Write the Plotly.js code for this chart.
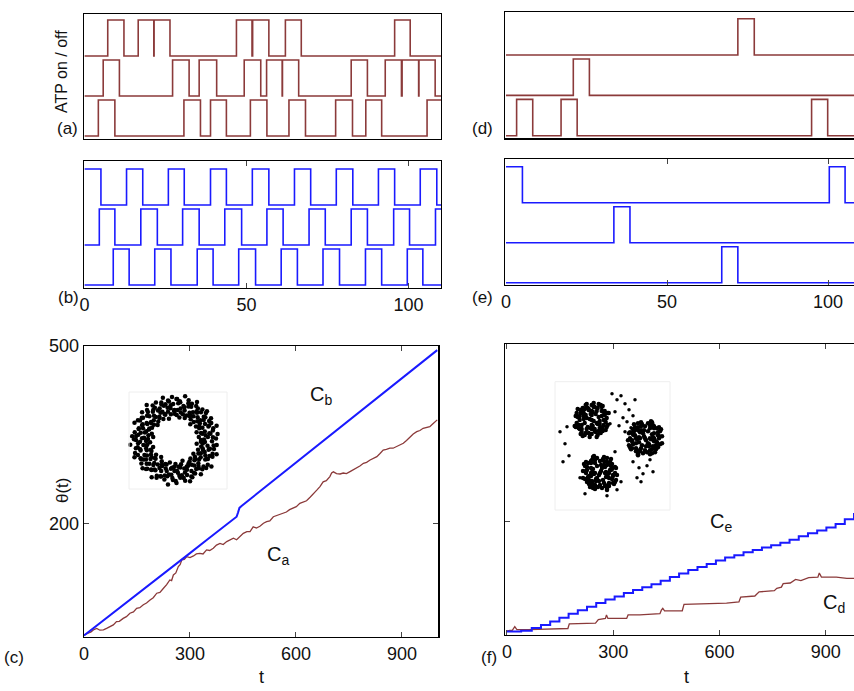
<!DOCTYPE html>
<html><head><meta charset="utf-8">
<script src="https://cdn.plot.ly/plotly-3.0.1.min.js"></script>
<style>html,body{margin:0;padding:0;background:#fff;overflow:hidden}</style>
</head><body><div id="chart" style="width:854px;height:691px"></div>
<script>
// ---------- DATA ----------
// Panel (a): toggle times and ATP states (bottom, middle, top)
const a1T = [0,4.3,9.4,30.7,35.8,38.9,43.8,51.2,56.3,63.1,68.2,77.5,82.7,86.8,91.7,105.7,110];
const a1S = [0,1,0,1,0,1,0,1,0,1,0,1,0,1,0,1,1];
const a2T = [0,5.8,10.8,27.2,32.3,35.4,40.8,49.3,54.4,56.2,61.0,61.1,66.1,82.3,87.3,92.8,97.8,98.0,103.1,103.2,108.2,110];
const a2S = [0,1,0,1,0,1,0,1,0,1,0,1,0,1,0,1,0,1,0,1,0,0];
const a3T = [0,7.2,12.2,16.6,21.4,21.5,26.4,46.9,51.7,51.9,56.9,62.0,66.9,95.7,100.5,110];
const a3S = [0,1,0,1,0,1,0,1,0,1,0,1,0,1,0,0];
// Panel (b)
const b1T = [0,8.9,13.8,21.7,26.7,34.8,39.7,47.6,52.8,60.7,65.7,73.6,78.7,86.7,91.7,99.6,104.4,110];
const b1S = [0,1,0,1,0,1,0,1,0,1,0,1,0,1,0,1,0,0];
const b2T = [0,4.6,9.4,17.4,22.5,30.3,35.4,43.3,48.5,56.3,61.3,69.3,74.3,82.3,87.3,95.4,100.3,108.3,110];
const b2S = [0,1,0,1,0,1,0,1,0,1,0,1,0,1,0,1,0,1,1];
const b3T = [0,5.1,13.0,18.0,25.9,30.8,38.9,43.8,51.8,56.9,64.8,69.8,77.7,82.8,90.7,95.7,103.6,108.7,110];
const b3S = [1,0,1,0,1,0,1,0,1,0,1,0,1,0,1,0,1,0,0];
// Panel (d)
const d1T = [0,3.3,8.3,17.1,22.1,94.9,99.9,110];
const d1S = [0,1,0,1,0,1,0,0];
const d2T = [0,20.9,25.9,110];
const d2S = [0,1,0,0];
const d3T = [0,72.0,77.1,110];
const d3S = [0,1,0,0];
// Panel (e)
const e1T = [0,67.0,72.0,110];
const e1S = [0,1,0,0];
const e2T = [0,33.5,38.5,110];
const e2S = [0,1,0,0];
const e3T = [0,5.1,100.4,105.3,110];
const e3S = [1,0,1,0,0];

// Panel (c): theta(t)
const caT = [0,10,20,28,36,45,55,64,74,83,92,100,111,120,130,140,149,158,168,177,187,196,206,215,225,234,243,248,253,260,267,272,277,284,291,300,310,318,328,337,347,356,366,375,385,394,404,413,423,432,442,451,461,470,479,488,498,508,517,526,536,545,555,564,573,582,592,601,611,620,630,640,649,659,668,677,686,696,701,706,715,725,734,743,753,762,772,781,791,800,810,819,829,838,847,856,866,875,885,894,904,913,923,932,942,951,960,970,979,987,994,1000];
const caV = [11,13,16,20,22,19,19.5,22,25,28,33.5,34,39,42,47.7,50,56,57,62,65,70,74,81.6,83,90,96,104,103,112.5,116,126.6,130,138,139,143.5,142,144.7,148,149,148,155,154,157.7,163,166,164,169,172,174.6,172,177.3,183,185.8,186,194,192,195,200,202.7,204,211,213,215,217,219,223,225.4,228,233.8,236,238,244,249,256,262,270,272,279,285,287,284,283.4,285,284,287.3,290,293,297,301.5,303,307,310,312.7,318,324,325,327,327,329.6,332,335.4,340,346.5,351,355,357,360.7,362,363.5,368,372,375];
const cbT = [0,50,100,150,200,250,300,350,400,432,436,440,446,500,550,600,650,700,750,800,850,900,950,1000];
const cbV = [10,33,56.5,80,103,126,149.5,173,196,211,218,226,229.3,255,279,303,326.5,350.5,374,398,422,446,469.5,493];
// Panel (f)
const ceT = [0,40,70,96,122,148,174,200,226,252,278,304,330,356,382,408,434,460,486,512,538,564,590,616,642,668,694,720,746,772,798,824,850,876,902,928,954,980,1000];
const ceV = [14,15,20,25,31,37,44,50,56,62,68,73,79,84,89,94,100,106,112,118,123,128,134,139,143,148,152,156,160,164,169,175,180,185,190,196,204,213,218];
const cdT = [0,15,22,28,60,120,172,176,250,258,278,281,285,338,342,375,432,436,440,445,495,500,560,620,655,660,700,712,755,762,775,780,800,815,830,852,878,882,888,930,960,980,1000];
const cdV = [15,16,22,17,17,18,19,27,28,34,36,42,36,36,42,42,44,50,53,49,49,60,61,62,64,72,74,81,83,87,89,95,96,102,100,105,106,113,106,106,104,104,104];

// Inset (c): ring cloud (angle deg, radius px)
const ringTh = [2,8,14,19,25,31,37,42,48,54,60,65,71,77,83,88,94,100,106,111,117,123,129,134,140,146,152,157,163,169,175,180,186,192,198,203,209,215,221,226,232,238,244,249,255,261,267,272,278,284,290,295,301,307,313,318,324,330,336,341,347,353,
  5,11,16,22,28,34,39,45,51,57,62,68,74,80,85,91,97,103,108,114,120,126,131,137,143,149,154,160,166,172,177,183,189,195,200,206,212,218,223,229,235,241,246,252,258,264,269,275,281,287,292,298,304,310,315,321,327,333,338,344,350,356,
  0,7,13,20,26,33,40,46,53,59,66,73,79,86,92,99,106,112,119,125,132,139,145,152,158,165,172,178,185,191,198,205,211,218,224,231,238,244,251,257,264,271,277,284,290,297,304,310,317,323,330,337,343,350,356,
  4,10,17,23,29,35,41,47,53,58,64,70,76,82,87,93,99,105,110,116,122,128,133,139,145,151,156,162,168,174,179,185,191,197,202,208,214,220,225,231,237,243,248,254,260,266,271,277,283,289,294,300,306,312,317,323,329,335,340,346,352,358,
  1,9,15,24,30,38,44,52,57,65,72,78,85,90,98,104,111,118,124,130,137,144,150,156,163,170,176,182,189,196,202,209,216,222,228,235,242,248,255,262,268,274,281,288,294,300,307,314,320,326,333,340,346,353];
const ringR = [41,43,39,44,40,42,38,43,41,39,44,40,42,45,39,41,43,40,44,38,42,41,45,39,43,40,42,44,38,41,43,39,45,40,42,44,39,41,43,40,38,44,42,39,41,45,40,43,38,42,44,41,39,43,40,42,45,38,41,44,40,42,
  33,35,31,36,34,30,37,32,35,33,31,36,34,32,37,30,35,33,36,31,34,37,32,35,30,33,36,34,31,37,33,35,32,36,30,34,37,31,35,33,36,32,34,30,37,35,31,33,36,34,32,35,30,37,33,31,36,34,32,35,33,30,
  26,24,28,23,27,25,29,22,26,28,24,27,23,25,29,26,22,28,24,27,25,23,29,26,28,24,22,27,25,29,23,26,28,24,27,22,25,29,26,23,28,24,27,25,22,29,26,24,28,23,27,25,29,22,26,
  38,36,40,37,39,35,41,38,36,40,37,39,35,38,41,36,39,37,40,35,38,36,41,37,39,40,36,38,35,39,41,37,38,36,40,39,35,37,41,38,36,40,39,37,35,38,41,36,39,37,40,38,36,35,39,41,37,38,40,36,39,37,
  29,31,27,30,28,32,26,30,29,27,31,28,30,26,32,29,27,31,28,30,29,26,32,28,30,27,31,29,28,30,26,32,29,27,31,30,28,26,32,29,27,31,28,30,29,27,32,28,26,31,29,30,27,28];

// Inset (f): three clusters (offsets from cluster centres) + sparse points
const clDx = [0,5,-5,10,-10,3,-3,8,-8,14,-14,0,0,6,-6,12,-12,2,-2,16,-16,9,-9,4,-4,11,-11,7,-7,13,-13,1,-1,15,-15,5,-5,10,-10,17,-17,3,-3,8,-8,12,-12,6,-6,0,0,14,-14,2,-2,9,-9,
  2,-2,7,-7,11,-11,4,-4,13,-13,9,-9,1,-1,15,-15,6,-6,10,-10,3,-3,12,-12,8,-8,5,-5,16,-16,0,0,14,-14,7,-7,11,-11];
const clDy = [0,3,-2,-4,5,9,-10,8,-7,2,-3,14,-15,-12,13,-8,9,-17,17,5,-4,13,-12,-6,7,11,-10,-16,15,-9,8,6,-6,-2,3,17,-16,-13,12,-7,6,11,-11,1,-1,5,-4,4,-5,-9,9,10,-11,-13,14,-15,16,
  1,-1,-3,3,7,-7,12,-12,-5,5,10,-10,-8,8,7,-7,15,-15,-9,9,-13,13,0,0,4,-4,-9,9,-7,7,5,-5,-7,7,11,-11,-14,14];
const clCx = [36.7, 90, 45];
const clCy = [38.3, 56.6, 91.3];
const spX = [57,62,66,70,74,60,68,72,78,64,55,80,76,70,78,84,88,92,82,95,86,98,5,10,14,8,12,30,52,62,36,66,25,60];
const spY = [12,18,14,22,28,30,36,40,34,44,42,18,46,50,80,86,92,84,96,78,100,90,50,62,74,80,45,112,114,108,104,100,96,70];

// ---------- STYLE / LAYOUT ----------
const W = 854, H = 691;
const fx = p => p / W, fy = p => 1 - p / H;
const BR = '#8b3a3a', BL = '#1a1aff';
const FONT = 'Liberation Sans, Arial, Helvetica, sans-serif';

function steps(T, S, k, xa, ya, color) {
  return {x: T, y: S.map(s => k + 0.9 * s), type: 'scatter', mode: 'lines',
    line: {shape: 'hv', color: color, width: 1.6}, xaxis: xa, yaxis: ya, hoverinfo: 'skip'};
}
const traces = [
  steps(a1T, a1S, 0, 'x', 'y', BR), steps(a2T, a2S, 1, 'x', 'y', BR), steps(a3T, a3S, 2, 'x', 'y', BR),
  steps(b1T, b1S, 0, 'x2', 'y2', BL), steps(b2T, b2S, 1, 'x2', 'y2', BL), steps(b3T, b3S, 2, 'x2', 'y2', BL),
  steps(d1T, d1S, 0, 'x4', 'y4', BR), steps(d2T, d2S, 1, 'x4', 'y4', BR), steps(d3T, d3S, 2, 'x4', 'y4', BR),
  steps(e1T, e1S, 0, 'x5', 'y5', BL), steps(e2T, e2S, 1, 'x5', 'y5', BL), steps(e3T, e3S, 2, 'x5', 'y5', BL),
  {x: caT, y: caV, type: 'scatter', mode: 'lines', line: {color: BR, width: 1.3}, xaxis: 'x3', yaxis: 'y3'},
  {x: cbT, y: cbV, type: 'scatter', mode: 'lines', line: {color: BL, width: 2}, xaxis: 'x3', yaxis: 'y3'},
  {x: cdT, y: cdV, type: 'scatter', mode: 'lines', line: {color: BR, width: 1.3}, xaxis: 'x6', yaxis: 'y6'},
  {x: ceT, y: ceV, type: 'scatter', mode: 'lines', line: {shape: 'hv', color: BL, width: 2}, xaxis: 'x6', yaxis: 'y6'},
  {type: 'scatterpolar', subplot: 'polar', mode: 'markers', theta: ringTh, r: ringR,
    marker: {color: '#000', size: 4.5}},
];
// clusters (variants of one offset pattern per cluster)
const variants = [
  [clDx, clDy],
  [clDy, clDx],
  [clDy.map(v => -v), clDx]
];
variants.forEach((v, i) => {
  traces.push({x: v[0].map(d => clCx[i] + d), y: v[1].map(d => clCy[i] + d), type: 'scatter', mode: 'markers',
    marker: {color: '#000', size: 4.5}, xaxis: 'x7', yaxis: 'y7'});
});
traces.push({x: spX, y: spY, type: 'scatter', mode: 'markers', marker: {color: '#000', size: 3.5}, xaxis: 'x7', yaxis: 'y7'});

const base = {showgrid: false, zeroline: false, showline: true, linecolor: '#000', linewidth: 1.3,
  ticks: '', showticklabels: false, tickfont: {family: FONT, size: 18, color: '#111'}, fixedrange: true};
function ax(o) { return Object.assign({}, base, o); }

const layout = {
  width: W, height: H, margin: {l: 0, r: 0, t: 0, b: 0}, paper_bgcolor: '#fff', plot_bgcolor: 'rgba(0,0,0,0)',
  showlegend: false, font: {family: FONT, size: 18, color: '#111'},
  // (a)
  xaxis: ax({domain: [fx(84.4), fx(441)], range: [0, 110], mirror: true}),
  yaxis: ax({domain: [fy(139), fy(14)], range: [-0.075, 3.05], mirror: true}),
  // (b)
  xaxis2: ax({domain: [fx(84.4), fx(441)], range: [0, 110], mirror: 'ticks', ticks: 'inside', ticklen: 5,
    tickvals: [0, 50, 100], showticklabels: true, anchor: 'y2'}),
  yaxis2: ax({domain: [fy(288), fy(161)], range: [-0.075, 3.1], mirror: true, anchor: 'x2'}),
  // (c)
  xaxis3: ax({domain: [fx(84), fx(438.3)], range: [0, 1003], mirror: 'ticks', ticks: 'inside', ticklen: 5,
    tickvals: [0, 300, 600, 900], showticklabels: true, anchor: 'y3'}),
  yaxis3: ax({domain: [fy(636.7), fy(346)], range: [8, 500], mirror: 'ticks', ticks: 'inside', ticklen: 5,
    tickvals: [200, 500], showticklabels: true, anchor: 'x3'}),
  // (d)
  xaxis4: ax({domain: [fx(505), 1], range: [-0.31, 108.07], mirror: true, anchor: 'y4'}),
  yaxis4: ax({domain: [fy(138.3), fy(12)], range: [-0.064, 3.066], anchor: 'x4'}),
  // (e)
  xaxis5: ax({domain: [fx(505), 1], range: [-0.31, 108.07], mirror: 'ticks', ticks: 'inside', ticklen: 5,
    tickvals: [0, 50, 100], showticklabels: true, anchor: 'y5'}),
  yaxis5: ax({domain: [fy(285), fy(159.3)], range: [-0.058, 3.085], anchor: 'x5'}),
  // (f)
  xaxis6: ax({domain: [fx(505), 1], range: [-5.6, 980], mirror: 'ticks', ticks: 'inside', ticklen: 5,
    tickvals: [0, 300, 600, 900], showticklabels: true, anchor: 'y6'}),
  yaxis6: ax({domain: [fy(635), fy(344.3)], range: [8, 500], ticks: 'inside', ticklen: 5, tickvals: [200], anchor: 'x6'}),
  // inset (f)
  xaxis7: {domain: [fx(555), fx(670)], range: [0, 115], visible: false, anchor: 'y7', fixedrange: true},
  yaxis7: {domain: [fy(510), fy(381.7)], range: [128.3, 0], visible: false, anchor: 'x7', fixedrange: true},
  polar: {domain: {x: [fx(126), fx(224)], y: [fy(489), fy(391)]}, bgcolor: 'rgba(0,0,0,0)',
    radialaxis: {visible: false, range: [0, 49]}, angularaxis: {visible: false}},
  shapes: [
    {type: 'rect', xref: 'paper', yref: 'paper', x0: fx(129), x1: fx(227), y0: fy(489), y1: fy(392), line: {color: '#eeeeee', width: 1}},
    {type: 'rect', xref: 'paper', yref: 'paper', x0: fx(555), x1: fx(670), y0: fy(510), y1: fy(381.7), line: {color: '#eeeeee', width: 1}}
  ],
  annotations: []
};
function note(text, x, y, size, angle) {
  layout.annotations.push({text: text, x: fx(x), y: fy(y), xref: 'paper', yref: 'paper', showarrow: false,
    xanchor: 'center', yanchor: 'middle', textangle: angle || 0, font: {family: FONT, size: size, color: '#111'}});
}
note('ATP on / off', 62, 72, 16, -90);
note('(a)', 67, 128, 17); note('(b)', 68, 297, 17); note('(c)', 14, 657, 17);
note('(d)', 483, 128, 17); note('(e)', 483, 297, 17); note('(f)', 489, 657, 17);
note('θ(t)', 62, 490, 17, -90);
note('t', 261, 677, 18); note('t', 686, 677, 18);
note('C<sub>b</sub>', 321, 395, 20); note('C<sub>a</sub>', 278, 555, 20);
note('C<sub>e</sub>', 721, 522, 20); note('C<sub>d</sub>', 834, 603, 20);

Plotly.newPlot('chart', traces, layout, {staticPlot: true, displayModeBar: false});
</script></body></html>
